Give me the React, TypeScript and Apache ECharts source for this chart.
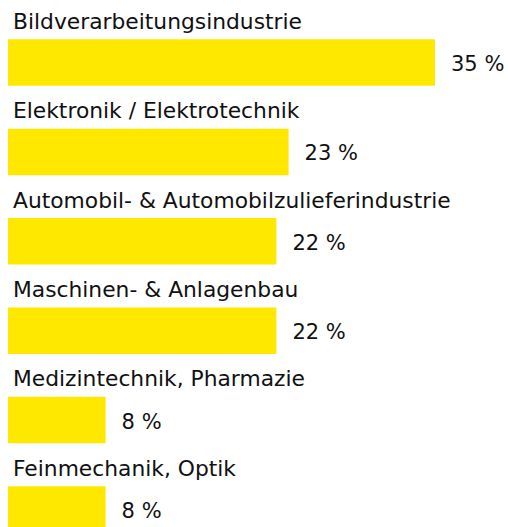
import React, { useEffect, useRef } from "react";
import * as echarts from "echarts";

const categories = [
  "Bildverarbeitungsindustrie",
  "Elektronik / Elektrotechnik",
  "Automobil- & Automobilzulieferindustrie",
  "Maschinen- & Anlagenbau",
  "Medizintechnik, Pharmazie",
  "Feinmechanik, Optik",
];
const values = [35, 23, 22, 22, 8, 8];

const FONT = "DejaVu Sans";
const YELLOW = "#FFE800";
const TEXT = "#111111";

export default function App() {
  const ref = useRef<HTMLDivElement>(null);
  useEffect(() => {
    if (!ref.current) return;
    const chart = echarts.init(ref.current, undefined, { renderer: "svg" });
    chart.setOption({
      animation: false,
      backgroundColor: "#ffffff",
      grid: {
        left: 8,
        right: 12,
        top: 17.8,
        bottom: -27.2,
        outerBoundsMode: "none",
        containLabel: false,
      },
      xAxis: { type: "value", min: 0, max: 40, show: false },
      yAxis: {
        type: "category",
        data: categories,
        inverse: true,
        show: false,
      },
      series: [
        {
          type: "bar",
          data: values,
          barWidth: 46.5,
          itemStyle: { color: YELLOW },
          silent: true,
          label: {
            show: true,
            position: "right",
            distance: 16,
            offset: [0, 1.5],
            formatter: "{c} %",
            fontFamily: FONT,
            fontSize: 21,
            color: TEXT,
          },
        },
        {
          type: "bar",
          data: values,
          barWidth: 46.5,
          barGap: "-100%",
          itemStyle: { color: "rgba(0,0,0,0)" },
          silent: true,
          label: {
            show: true,
            position: [5, -18],
            align: "left",
            verticalAlign: "middle",
            formatter: (p: any) => categories[p.dataIndex],
            fontFamily: FONT,
            fontSize: 21.8,
            color: TEXT,
          },
        },
      ],
    });
    return () => chart.dispose();
  }, []);
  return (
    <div
      ref={ref}
      style={{ position: "fixed", left: 0, top: 0, width: 508, height: 527 }}
    />
  );
}
